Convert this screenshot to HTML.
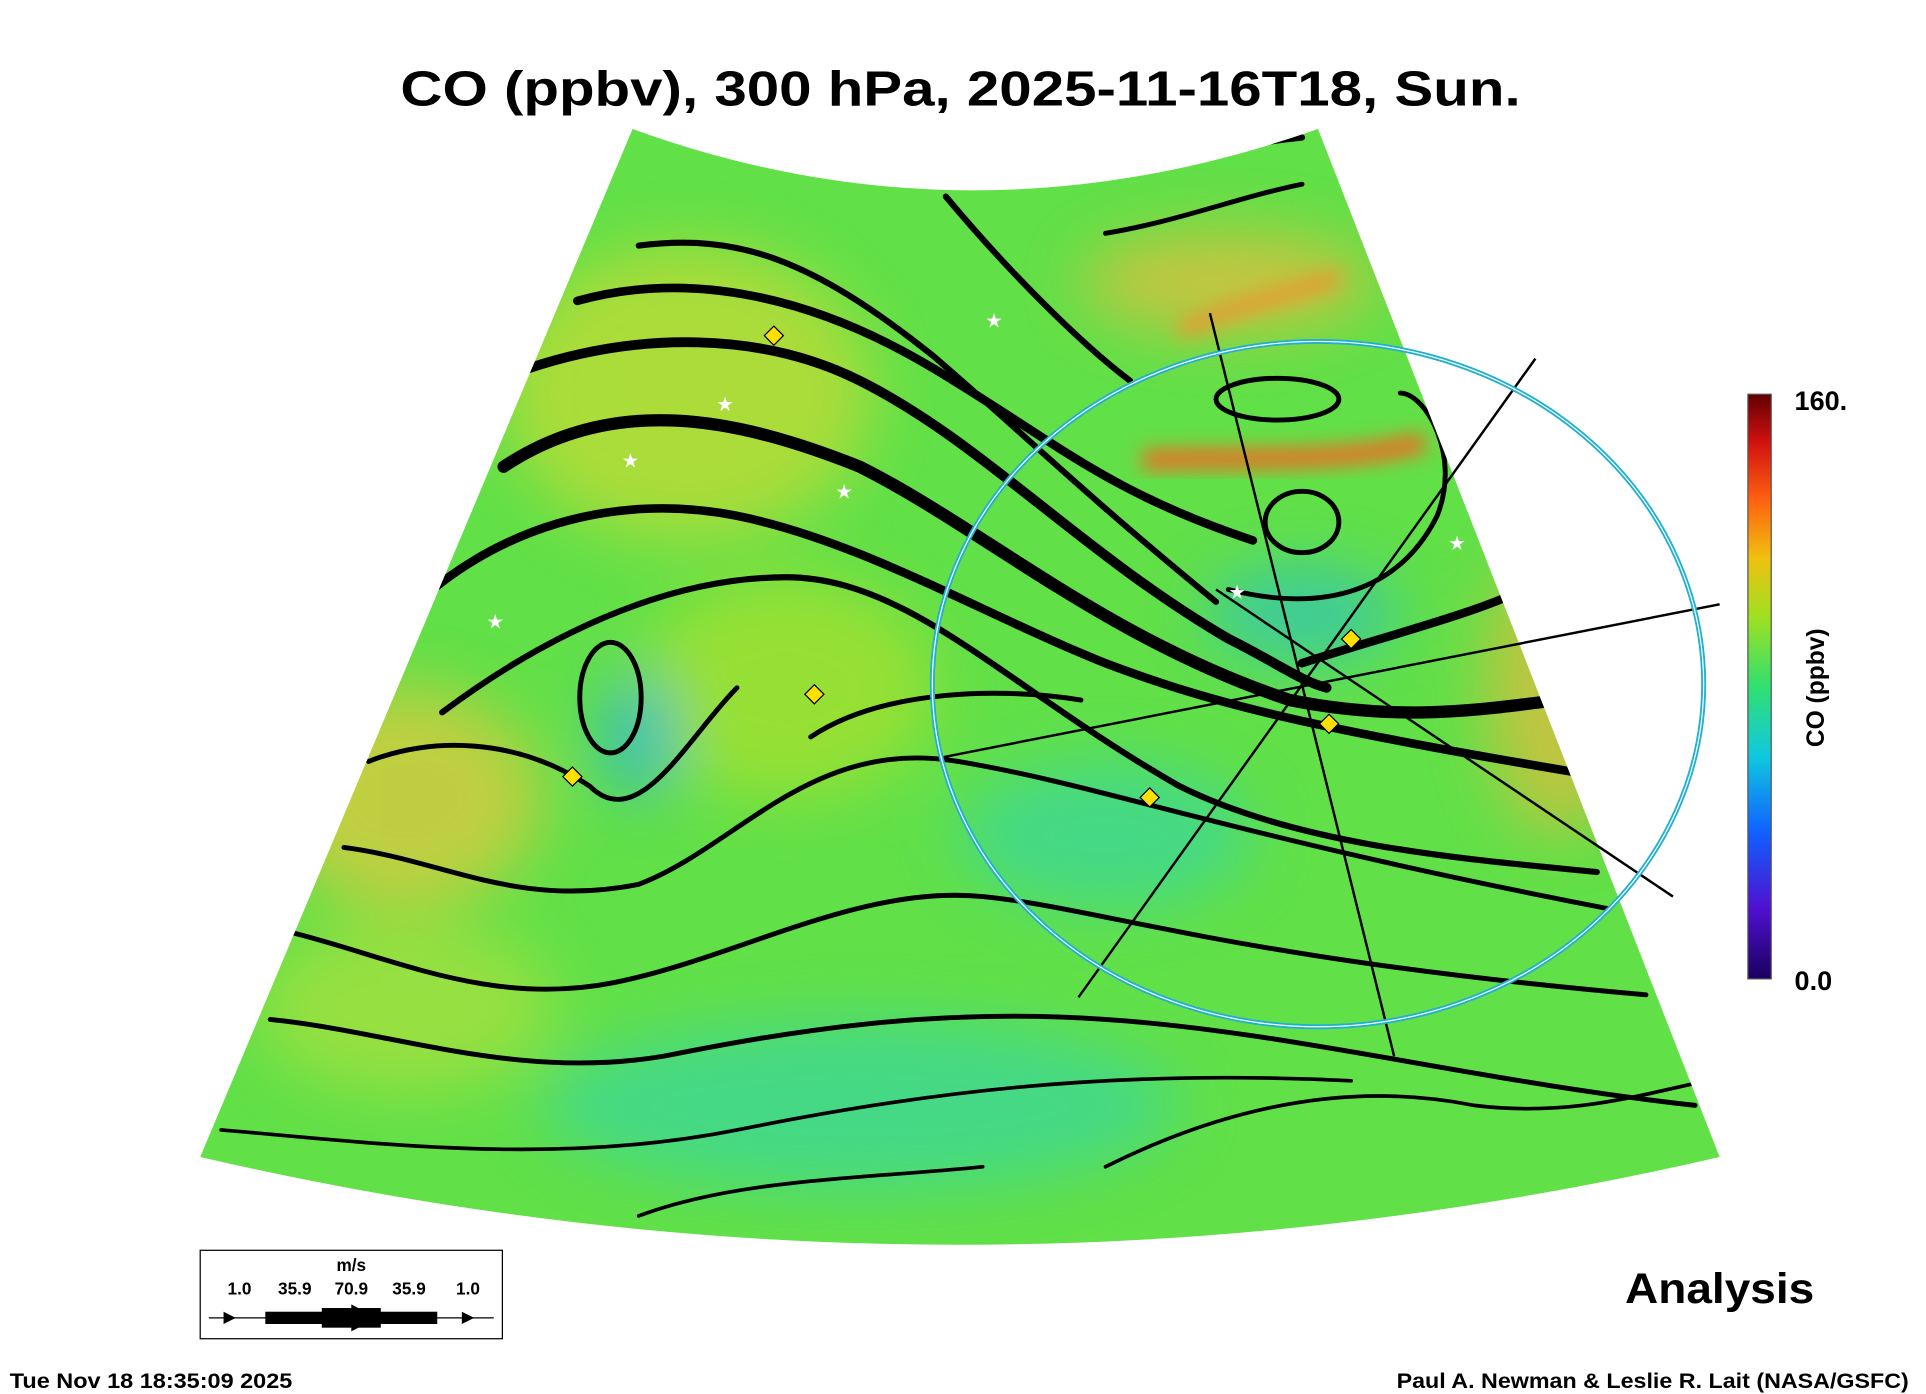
<!DOCTYPE html>
<html><head><meta charset="utf-8"><style>
html,body{margin:0;padding:0;background:#fff;}
svg{display:block}
text{font-family:"Liberation Sans",Arial,sans-serif;font-weight:bold;fill:#000}
</style></head><body>
<svg width="1926" height="1394" viewBox="0 0 1568 1135" preserveAspectRatio="none" xmlns="http://www.w3.org/2000/svg">
<defs>
<linearGradient id="cb" x1="0" y1="1" x2="0" y2="0">
<stop offset="0" stop-color="#1a0060"/><stop offset="0.12" stop-color="#5010d0"/><stop offset="0.25" stop-color="#1060ff"/><stop offset="0.38" stop-color="#10c8e0"/><stop offset="0.5" stop-color="#30e070"/><stop offset="0.62" stop-color="#a0e020"/><stop offset="0.72" stop-color="#f0c010"/><stop offset="0.82" stop-color="#ff6010"/><stop offset="0.92" stop-color="#d01010"/><stop offset="1" stop-color="#600000"/></linearGradient>
<clipPath id="map"><path d="M515,105 Q790,205 1073,105 L1400,942 Q780,1085 163,942 Z"/></clipPath>
<filter id="bl"><feGaussianBlur stdDeviation="25"/></filter>
<filter id="bl2"><feGaussianBlur stdDeviation="8"/></filter>
</defs>
<text x="782" y="86" font-size="40" text-anchor="middle" textLength="912" lengthAdjust="spacingAndGlyphs">CO (ppbv), 300 hPa, 2025-11-16T18, Sun.</text>
<g clip-path="url(#map)">
<rect x="150" y="90" width="1270" height="1000" fill="#62e048"/>
<g filter="url(#bl)" opacity="0.85">
<ellipse cx="560" cy="320" rx="150" ry="120" fill="#b8dc38"/>
<ellipse cx="330" cy="650" rx="110" ry="90" fill="#d0cc40"/>
<ellipse cx="640" cy="560" rx="120" ry="90" fill="#a0e030"/>
<ellipse cx="1000" cy="230" rx="120" ry="40" fill="#d8c040"/>
<ellipse cx="1270" cy="560" rx="60" ry="120" fill="#d0c040"/>
<ellipse cx="900" cy="680" rx="120" ry="60" fill="#40d890"/>
<ellipse cx="700" cy="900" rx="260" ry="70" fill="#40d890"/>
<ellipse cx="1060" cy="500" rx="80" ry="40" fill="#38c8a8"/>
<ellipse cx="520" cy="600" rx="30" ry="50" fill="#30b8d0"/>
<ellipse cx="330" cy="820" rx="120" ry="70" fill="#a0e040"/>
</g>
<g filter="url(#bl2)">
<path d="M930,375 C1000,370 1080,380 1160,360" stroke="#f06a20" stroke-width="16" fill="none"/>
<path d="M960,270 C1000,250 1050,240 1090,225" stroke="#e89a30" stroke-width="14" fill="none"/>
</g>
<g fill="none" stroke="#000" stroke-linecap="round">
<path d="M470,245 C560,220 660,240 760,300 C860,360 900,400 1020,440" stroke-width="7"/>
<path d="M430,300 C520,270 620,270 700,310 C800,360 880,450 1000,520 C1040,540 1060,555 1080,560" stroke-width="8"/>
<path d="M520,200 C600,190 660,210 760,290 C830,350 880,400 990,490" stroke-width="5"/>
<path d="M410,380 C500,320 600,340 700,380 C800,430 900,520 1050,570 C1150,590 1220,575 1270,570" stroke-width="10"/>
<path d="M330,500 C400,430 500,400 600,420 C700,440 800,500 900,540 C980,570 1050,590 1290,630" stroke-width="7"/>
<path d="M360,580 C440,520 540,470 640,470 C740,470 820,560 960,640 C1060,690 1200,700 1300,710" stroke-width="5"/>
<path d="M300,620 C350,600 420,600 480,640 C520,680 560,600 600,560" stroke-width="4"/>
<path d="M280,690 C360,700 420,740 520,720 C600,690 660,600 780,620 C900,640 1000,680 1310,740" stroke-width="4"/>
<path d="M240,760 C320,780 400,820 500,800 C600,780 700,720 800,730 C900,740 1000,780 1340,810" stroke-width="4"/>
<path d="M220,830 C320,840 420,880 540,860 C640,840 760,820 900,830 C1050,840 1200,880 1380,900" stroke-width="4"/>
<path d="M180,920 C300,930 450,950 600,920 C750,890 900,870 1100,880" stroke-width="3"/>
<path d="M660,600 C720,560 820,560 880,570" stroke-width="4"/>
<path d="M900,190 C960,180 1010,160 1060,150" stroke-width="4"/>
<path d="M960,130 C1000,120 1030,115 1060,112" stroke-width="5"/>
<path d="M770,160 C820,220 880,280 920,310" stroke-width="5"/>
<path d="M1060,540 C1120,520 1200,500 1240,480" stroke-width="7"/>
<path d="M1000,480 C1080,500 1140,480 1170,420 C1190,370 1160,320 1140,320" stroke-width="4"/>
<ellipse cx="1040" cy="325" rx="50" ry="17" stroke-width="4"/>
<ellipse cx="1060" cy="425" rx="30" ry="25" stroke-width="4"/>
<ellipse cx="497" cy="568" rx="25" ry="45" stroke-width="4"/>
<path d="M900,950 C1000,900 1100,880 1200,900 C1280,910 1340,890 1390,880" stroke-width="3"/>
<path d="M520,990 C600,960 700,960 800,950" stroke-width="3"/>
</g>
</g>
<g stroke="#000" stroke-width="2" fill="none">
<line x1="985" y1="255" x2="1135" y2="860"/>
<line x1="1250" y1="292" x2="878" y2="812"/>
<line x1="1400" y1="492" x2="760" y2="618"/>
<line x1="990" y1="480" x2="1362" y2="730"/>
</g>
<ellipse cx="1073" cy="557" rx="314" ry="279" fill="none" stroke="#20b0d0" stroke-width="4"/>
<ellipse cx="1073" cy="557" rx="314" ry="279" fill="none" stroke="#fff" stroke-width="1"/>
<g fill="#ffe000" stroke="#000" stroke-width="1">
<rect x="624" y="268" width="11" height="11" transform="rotate(45 630 274)"/>
<rect x="657" y="560" width="11" height="11" transform="rotate(45 663 566)"/>
<rect x="460" y="627" width="11" height="11" transform="rotate(45 466 633)"/>
<rect x="930" y="644" width="11" height="11" transform="rotate(45 936 650)"/>
<rect x="1094" y="515" width="11" height="11" transform="rotate(45 1100 521)"/>
<rect x="1076" y="584" width="11" height="11" transform="rotate(45 1082 590)"/>
</g>
<g font-size="14" font-family="DejaVu Sans">
<text x="803" y="266" style="fill:#fff">★</text><text x="584" y="334" style="fill:#fff">★</text><text x="507" y="380" style="fill:#fff">★</text><text x="681" y="405" style="fill:#fff">★</text><text x="397" y="511" style="fill:#fff">★</text><text x="1001" y="487" style="fill:#fff">★</text><text x="1180" y="447" style="fill:#fff">★</text>
</g>
<rect x="1423" y="321" width="19" height="476" fill="url(#cb)" stroke="#555" stroke-width="1"/>
<text x="1461" y="334" font-size="22">160.</text>
<text x="1461" y="806" font-size="22">0.0</text>
<text transform="translate(1485,560) rotate(-90)" font-size="20" text-anchor="middle">CO (ppbv)</text>
<text x="1323" y="1061" font-size="35" textLength="154" lengthAdjust="spacingAndGlyphs">Analysis</text>
<rect x="163" y="1018" width="246" height="72" fill="#fff" stroke="#000" stroke-width="1"/>
<g font-size="14" text-anchor="middle">
<text x="286" y="1035">m/s</text>
<text x="195" y="1054">1.0</text><text x="240" y="1054">35.9</text><text x="286" y="1054">70.9</text><text x="333" y="1054">35.9</text><text x="381" y="1054">1.0</text>
</g>
<line x1="170" y1="1073" x2="402" y2="1073" stroke="#000" stroke-width="1"/>
<rect x="216" y="1068" width="140" height="10"/>
<rect x="262" y="1065" width="48" height="16"/>
<polygon points="182,1068 192,1073 182,1078"/><polygon points="286,1062 307,1073 286,1084"/><polygon points="376,1068 386,1073 376,1078"/>
<text x="8" y="1130" font-size="17" textLength="230" lengthAdjust="spacingAndGlyphs">Tue Nov 18 18:35:09 2025</text>
<text x="1137" y="1130" font-size="17" textLength="417" lengthAdjust="spacingAndGlyphs">Paul A. Newman &amp; Leslie R. Lait (NASA/GSFC)</text>
</svg>
</body></html>
